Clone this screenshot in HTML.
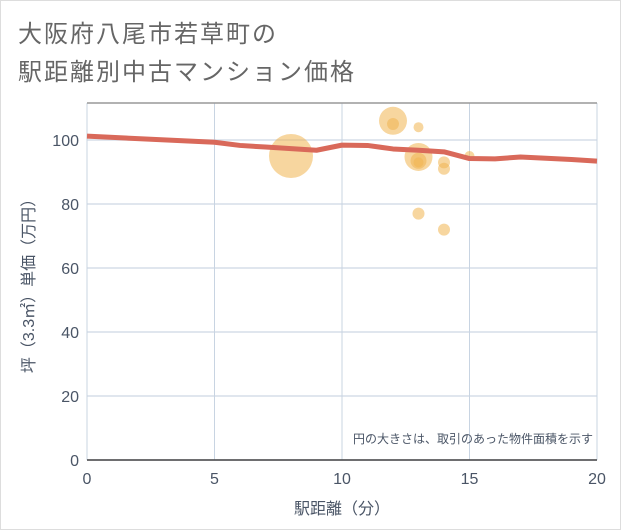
<!DOCTYPE html>
<html><head><meta charset="utf-8"><style>
body{margin:0;background:#fff;}
#wrap{position:relative;width:619px;height:528px;border:1px solid #ddd;font-family:"Liberation Sans","Noto Sans CJK JP",sans-serif;}
.t{position:absolute;left:17px;font-size:24px;color:#666;letter-spacing:2px;}
</style></head><body>
<div id="wrap">
<div class="t" style="top:13px">大阪府八尾市若草町の</div>
<div class="t" style="top:51px">駅距離別中古マンション価格</div>
<svg id="c" width="621" height="530" style="position:absolute;left:-1px;top:-1px"></svg>
</div>
<script>
const xTicks=[0,5,10,15,20];
const yTicks=[0,20,40,60,80,100];
const lineX=[0,5,6,7,8,9,10,11,12,13,14,15,16,17,18,19,20];
const lineY=[101.2,99.3,98.3,97.8,97.3,96.8,98.4,98.3,97.2,96.8,96.3,94.2,94.1,94.7,94.3,93.9,93.4];
const bubX=[8,12,12,13,13,13,13,14,14,15,13,14];
const bubY=[95,106,105,104,94.7,93.5,93,93,91,95,77,72];
const bubR=[22,14,6,5,14,8,5,6,6,5,6,6];
const NS='http://www.w3.org/2000/svg';
const svg=document.getElementById('c');
const X0=87,X1=597,Y0=460,Ytop=103;
const sx=v=>X0+(X1-X0)*v/20;
const sy=v=>Y0-3.2*v;
function mk(tag,attrs){const e=document.createElementNS(NS,tag);for(const k in attrs)e.setAttribute(k,attrs[k]);svg.appendChild(e);return e;}
let e;
e=mk('rect',{x:X0,y:Ytop,width:X1-X0,height:Y0-Ytop,fill:'#fff'});


yTicks.forEach(v=>{
 e=mk('line',{x1:X0,x2:X1,y1:sy(v),y2:sy(v),stroke:'#d5dee8','stroke-width':1.5});
 
 
 e=mk('text',{x:X0-8,y:sy(v)+6,'text-anchor':'end','font-size':16,fill:'#4a5566'});e.textContent=v;
 
 
});
xTicks.forEach(v=>{
 e=mk('line',{x1:sx(v),x2:sx(v),y1:Ytop,y2:Y0,stroke:'#c8d4e2','stroke-width':1});
 
 
 e=mk('text',{x:sx(v),y:Y0+24,'text-anchor':'middle','font-size':16,fill:'#4a5566'});e.textContent=v;
 
 
});
e=mk('line',{x1:X0,x2:X1,y1:Ytop,y2:Ytop,stroke:'#999','stroke-width':1.5});


e=mk('line',{x1:X0,x2:X1,y1:Y0,y2:Y0,stroke:'#444','stroke-width':1.5});


bubX.forEach((v,i)=>{
 e=mk('circle',{cx:sx(v),cy:sy(bubY[i]),r:bubR[i],fill:'rgba(240,180,80,0.55)'});
 
 
});
e=mk('polyline',{points:lineX.map((v,i)=>sx(v)+','+sy(lineY[i])).join(' '),fill:'none',stroke:'#d9695a','stroke-width':5,'stroke-linejoin':'round'});


e=mk('text',{x:593,y:443,'text-anchor':'end','font-size':12,fill:'#4a5566'});e.textContent='円の大きさは、取引のあった物件面積を示す';


e=mk('text',{x:342,y:514,'text-anchor':'middle','font-size':16,fill:'#4a5566'});e.textContent='駅距離（分）';


e=mk('text',{x:0,y:0,'text-anchor':'middle','font-size':16,fill:'#4a5566',transform:'translate(34,282) rotate(-90)'});e.textContent='坪（3.3㎡）単価（万円）';


</script>
</body></html>
